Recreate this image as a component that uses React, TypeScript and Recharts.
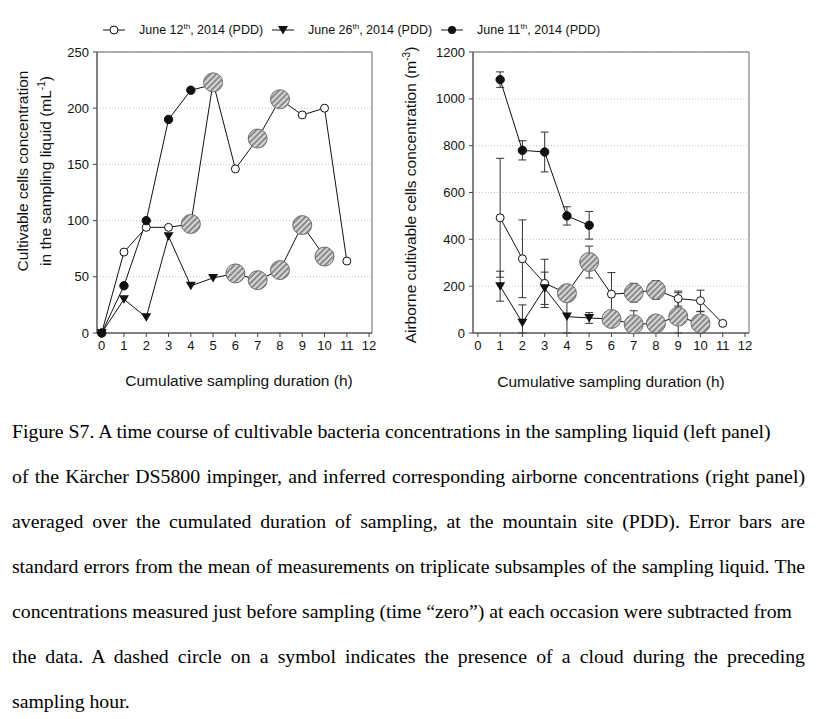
import React from 'react'
import {
  ComposedChart, Line, Scatter, XAxis, YAxis, CartesianGrid, ErrorBar, ReferenceArea,
} from 'recharts'

// left panel: concentration in the sampling liquid (mL-1), hour = index
const LIQ_JUNE12 = [0, 72, 94, 94, 97, 223, 146, 173, 208, 194, 200, 64]
const LIQ_JUNE26 = [0, 30, 14, 86, 42, 49, 53, 47, 56, 96, 68]
const LIQ_JUNE11 = [0, 42, 100, 190, 216, 221]

// right panel: airborne concentration (m-3), hour = index + 1
const AIR_JUNE12 = [492, 317, 212, 170, 303, 166, 172, 184, 147, 138, 41]
const AIR_JUNE12_SE = [254, 166, 103, 20, 68, 92, 40, 40, 32, 45, 0]
const AIR_JUNE26 = [200, 44, 191, 70, 64, 60, 37, 41, 70, 41]
const AIR_JUNE26_SE = [64, 76, 69, 70, 23, 20, 58, 33, 102, 50]
const AIR_JUNE11 = [1082, 780, 773, 500, 460]
const AIR_JUNE11_SE = [33, 41, 85, 39, 59]

// hours with a cloud during the preceding sampling hour
const CLOUD_JUNE12 = [4, 5, 7, 8]
const CLOUD_JUNE26 = [6, 7, 8, 9, 10]

const X_TICKS = [0, 1, 2, 3, 4, 5, 6, 7, 8, 9, 10, 11, 12]
const LIQ_TICKS = [0, 50, 100, 150, 200, 250]
const AIR_TICKS = [0, 200, 400, 600, 800, 1000, 1200]

const CAPTION_LINES = [
  'Figure S7. A time course of cultivable bacteria concentrations in the sampling liquid (left panel)',
  'of the Kärcher DS5800 impinger, and inferred corresponding airborne concentrations (right panel)',
  'averaged over the cumulated duration of sampling, at the mountain site (PDD). Error bars are',
  'standard errors from the mean of measurements on triplicate subsamples of the sampling liquid. The',
  'concentrations measured just before sampling (time “zero”) at each occasion were subtracted from',
  'the data. A dashed circle on a symbol indicates the presence of a cloud during the preceding',
  'sampling hour.',
]
const JUSTIFIED = [false, true, true, true, false, true, false]

const SANS = '"Liberation Sans", Arial, Helvetica, sans-serif'
const SERIF = '"Liberation Serif", "Times New Roman", serif'

const liquid = (vals: number[]) => vals.map((v, i) => ({ hour: i, v }))
const air = (vals: number[], se: number[]) =>
  vals.map((v, i) => ({ hour: i + 1, v, err: [Math.min(se[i], v), se[i]] }))
const clouds = (hours: number[], rows: { hour: number; v: number }[]) =>
  hours.map((h) => ({ hour: h, v: rows.find((r) => r.hour === h)!.v }))

const liq12 = liquid(LIQ_JUNE12)
const liq26 = liquid(LIQ_JUNE26)
const liq11 = liquid(LIQ_JUNE11)
const air12 = air(AIR_JUNE12, AIR_JUNE12_SE)
const air26 = air(AIR_JUNE26, AIR_JUNE26_SE)
const air11 = air(AIR_JUNE11, AIR_JUNE11_SE)
const liqClouds = [...clouds(CLOUD_JUNE12, liq12), ...clouds(CLOUD_JUNE26, liq26)]
const airClouds = [...clouds(CLOUD_JUNE12, air12), ...clouds(CLOUD_JUNE26, air26)]

// the series symbol is left out where the cloud circle sits
const hidden = (p: any, cloud: number[]) =>
  p.cx == null || p.cy == null || cloud.includes(p.payload?.hour)

const openDot = (p: any) =>
  hidden(p, CLOUD_JUNE12) ? <g key={p.index} /> :
    <circle key={p.index} cx={p.cx} cy={p.cy} r={4} fill="#fff" stroke="#111" strokeWidth={1} />
const fullDot = (p: any) =>
  hidden(p, []) ? <g key={p.index} /> :
    <circle key={p.index} cx={p.cx} cy={p.cy} r={4.2} fill="#111" stroke="#111" />
const triDot = (p: any) =>
  hidden(p, CLOUD_JUNE26) ? <g key={p.index} /> :
    <path key={p.index} d={`M${p.cx - 5},${p.cy - 4}L${p.cx + 5},${p.cy - 4}L${p.cx},${p.cy + 4.5}Z`} fill="#111" />
const cloudShape = (p: any) =>
  <circle cx={p.cx} cy={p.cy} r={9.5} fill="url(#cloudHatch)" stroke="#6e6e6e" strokeWidth={1} />

const tickStyle = { fontSize: 13, fill: '#111', fontFamily: SANS }

function Panel({ kind }: { kind: 'liq' | 'air' }) {
  const isLiq = kind === 'liq'
  const xDomain = isLiq ? [-0.21, 12.13] : [-0.22, 12.18]
  const yMax = isLiq ? 250 : 1200
  return (
    <ComposedChart
      width={isLiq ? 390 : 370}
      height={330}
      margin={{ top: 12, right: isLiq ? 18 : 21, bottom: 7, left: isLiq ? 57 : 33 }}
    >
      <CartesianGrid vertical={false} stroke="#c4c4c4" strokeDasharray="1 2" />
      <XAxis
        type="number" dataKey="hour" domain={xDomain} ticks={X_TICKS} interval={0}
        height={30} tick={tickStyle} tickSize={4} tickMargin={4}
        axisLine={{ stroke: '#555' }} tickLine={{ stroke: '#444' }}
      />
      <YAxis
        type="number" domain={[0, yMax]} ticks={isLiq ? LIQ_TICKS : AIR_TICKS} interval={0}
        width={40} tick={tickStyle} tickSize={4} tickMargin={4}
        axisLine={{ stroke: '#555' }} tickLine={{ stroke: '#444' }}
      />
      <ReferenceArea x1={xDomain[0]} x2={xDomain[1]} y1={0} y2={yMax} fill="none" stroke="#666" strokeWidth={1} />
      <Line data={isLiq ? liq12 : air12} dataKey="v" stroke="#111" strokeWidth={1} dot={openDot} isAnimationActive={false}>
        {!isLiq && <ErrorBar dataKey="err" width={4} stroke="#333" strokeWidth={1} />}
      </Line>
      <Line data={isLiq ? liq26 : air26} dataKey="v" stroke="#111" strokeWidth={1} dot={triDot} isAnimationActive={false}>
        {!isLiq && <ErrorBar dataKey="err" width={4} stroke="#333" strokeWidth={1} />}
      </Line>
      <Line data={isLiq ? liq11 : air11} dataKey="v" stroke="#111" strokeWidth={1} dot={fullDot} isAnimationActive={false}>
        {!isLiq && <ErrorBar dataKey="err" width={4} stroke="#333" strokeWidth={1} />}
      </Line>
      <Scatter data={isLiq ? liqClouds : airClouds} dataKey="v" shape={cloudShape} isAnimationActive={false} />
    </ComposedChart>
  )
}

function LegendSymbol({ type }: { type: 'open' | 'tri' | 'full' }) {
  return (
    <svg width={22} height={12} style={{ display: 'block' }}>
      <line x1={0} y1={6} x2={22} y2={6} stroke="#111" strokeWidth={1} />
      {type === 'open' && <circle cx={11} cy={6} r={4} fill="#fff" stroke="#111" />}
      {type === 'full' && <circle cx={11} cy={6} r={4} fill="#111" />}
      {type === 'tri' && <path d="M6,2L16,2L11,10.5Z" fill="#111" />}
    </svg>
  )
}

const LEGEND = [
  { type: 'open' as const, day: '12', left: 103 },
  { type: 'tri' as const, day: '26', left: 272 },
  { type: 'full' as const, day: '11', left: 441 },
]

const titleStyle = { position: 'absolute' as const, lineHeight: '18px', fontSize: 15.5, textAlign: 'center' as const, whiteSpace: 'nowrap' as const }

export default function App() {
  return (
    <div style={{ position: 'absolute', left: 0, top: 0, width: 822, height: 719, background: '#fff', fontFamily: SANS, color: '#111' }}>
      <svg width={0} height={0} style={{ position: 'absolute' }}>
        <defs>
          <pattern id="cloudHatch" width={4} height={4} patternUnits="userSpaceOnUse" patternTransform="rotate(45)">
            <rect width={4} height={4} fill="#d6d6d6" />
            <rect width={2} height={4} fill="#8a8a8a" />
          </pattern>
        </defs>
      </svg>

      {LEGEND.map((l) => (
        <div key={l.day} style={{ position: 'absolute', left: l.left, top: 22, display: 'flex', alignItems: 'center', fontSize: 12.5, whiteSpace: 'nowrap' }}>
          <LegendSymbol type={l.type} />
          <span style={{ marginLeft: 14 }}>June {l.day}<sup style={{ fontSize: 8 }}>th</sup>, 2014 (PDD)</span>
        </div>
      ))}

      <div style={{ position: 'absolute', left: 0, top: 40 }}>
        <Panel kind="liq" />
      </div>
      <div style={{ position: 'absolute', left: 400, top: 40 }}>
        <Panel kind="air" />
      </div>

      <div style={{ ...titleStyle, left: -98, top: 152, width: 260, height: 38, lineHeight: '19px', transform: 'rotate(-90deg)' }}>
        Cultivable cells concentration<br />in the sampling liquid (mL<sup style={{ fontSize: 10 }}>-1</sup>)
      </div>
      <div style={{ ...titleStyle, left: 237, top: 186, width: 340, height: 18, transform: 'rotate(-90deg)' }}>
        Airborne cultivable cells concentration (m<sup style={{ fontSize: 10 }}>-3</sup>)
      </div>
      <div style={{ ...titleStyle, left: 119, top: 372, width: 240 }}>
        Cumulative sampling duration (h)
      </div>
      <div style={{ ...titleStyle, left: 491, top: 373, width: 240 }}>
        Cumulative sampling duration (h)
      </div>

      <div style={{ position: 'absolute', left: 12, top: 409, width: 793, fontFamily: SERIF, fontSize: 19.8, lineHeight: '45px', color: '#000' }}>
        {CAPTION_LINES.map((t, i) => (
          <div key={i} style={{ textAlign: JUSTIFIED[i] ? 'justify' : 'left', textAlignLast: JUSTIFIED[i] ? 'justify' : 'left', whiteSpace: 'nowrap', letterSpacing: i === 3 ? -0.1 : 0 }}>
            {t}
          </div>
        ))}
      </div>
    </div>
  )
}
